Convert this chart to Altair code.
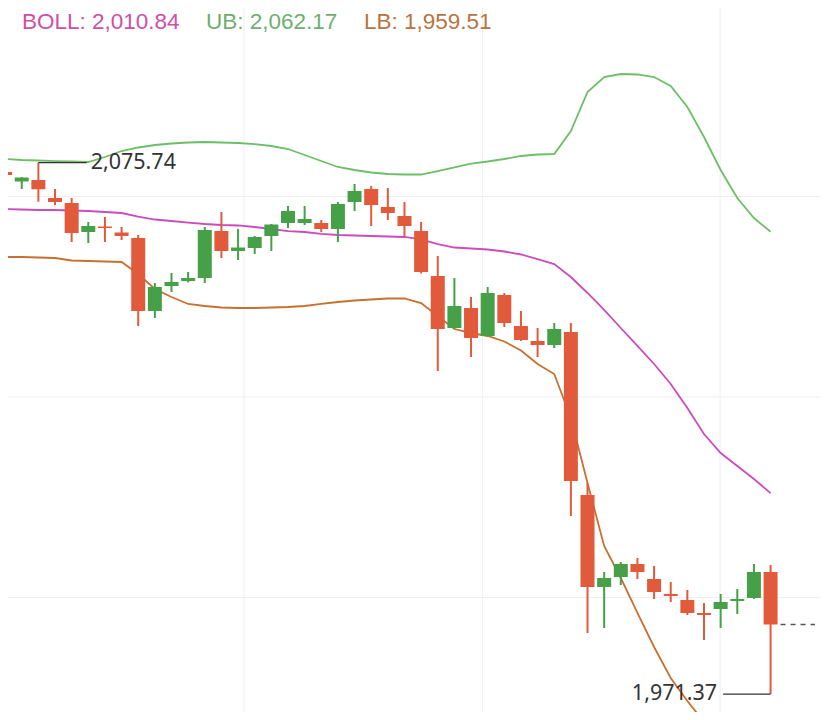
import altair as alt
import pandas as pd

# ---- data ----
idx = list(range(47))
open_ = [2073.91, 2072.05, 2072.34, 2068.81, 2067.82, 2062.13, 2063.21, 2062.03, 2060.95, 2046.61,
         2051.52, 2052.50, 2053.09, 2062.32, 2058.40, 2058.99, 2061.34, 2063.90, 2063.90, 2063.90,
         2062.72, 2068.02, 2070.57, 2067.04, 2065.27, 2062.32, 2053.49, 2043.27, 2047.20, 2041.70,
         2049.75, 2043.66, 2040.72, 2039.93, 2042.49, 2010.47, 1992.40, 1994.36, 1996.91, 1993.97,
         1991.02, 1989.84, 1987.29, 1988.07, 1989.65, 1990.23, 1995.34]
high = [2075.58, 2072.93, 2075.74, 2070.57, 2068.81, 2064.09, 2065.07, 2063.11, 2061.54, 2052.11,
        2054.07, 2054.27, 2063.11, 2066.06, 2062.72, 2061.34, 2063.70, 2067.24, 2067.24, 2064.49,
        2068.02, 2071.56, 2071.16, 2070.77, 2068.02, 2064.09, 2057.41, 2053.09, 2049.36, 2051.32,
        2050.15, 2046.61, 2043.27, 2044.25, 2044.25, 2012.82, 1995.34, 1997.31, 1998.09, 1996.52,
        1993.38, 1991.81, 1989.25, 1991.02, 1992.00, 1996.91, 1996.72]
low = [2073.03, 2070.57, 2068.08, 2067.43, 2060.16, 2059.97, 2060.16, 2060.56, 2043.66, 2045.24,
       2050.34, 2052.21, 2052.11, 2057.02, 2056.63, 2057.81, 2058.40, 2062.91, 2063.50, 2062.13,
       2060.16, 2066.25, 2063.31, 2064.49, 2061.34, 2053.98, 2034.82, 2043.07, 2037.57, 2041.60,
       2043.47, 2040.72, 2037.57, 2039.34, 2006.34, 1983.36, 1984.34, 1992.79, 1993.97, 1990.04,
       1989.45, 1986.90, 1981.98, 1984.34, 1987.09, 1990.04, 1971.37]
close = [2073.32, 2072.83, 2070.52, 2068.02, 2061.93, 2063.31, 2062.91, 2061.34, 2046.61, 2051.32,
         2052.31, 2053.09, 2062.52, 2058.40, 2059.08, 2061.15, 2063.60, 2066.25, 2064.68, 2062.72,
         2067.63, 2070.18, 2067.43, 2065.86, 2063.31, 2054.27, 2043.07, 2047.59, 2041.31, 2050.15,
         2044.25, 2040.91, 2039.93, 2043.07, 2013.22, 1992.40, 1994.16, 1996.91, 1995.34, 1991.41,
         1990.63, 1987.29, 1986.90, 1989.45, 1990.04, 1995.34, 1985.03]
ub = [2076.47, 2076.27, 2076.17, 2076.07, 2075.98, 2075.88, 2076.86, 2078.04, 2078.73, 2079.22,
      2079.51, 2079.71, 2079.81, 2079.71, 2079.61, 2079.41, 2079.02, 2078.43, 2077.25, 2076.07,
      2074.90, 2074.31, 2073.82, 2073.52, 2073.42, 2073.42, 2074.11, 2074.80, 2075.58, 2075.98,
      2076.47, 2077.06, 2077.35, 2077.45, 2081.97, 2089.63, 2092.57, 2093.16, 2093.07, 2092.57,
      2090.81, 2086.68, 2080.79, 2074.31, 2068.81, 2064.88, 2062.17]
boll = [2066.65, 2066.55, 2066.45, 2066.45, 2066.35, 2066.25, 2066.06, 2065.86, 2065.17, 2064.58,
        2064.29, 2063.99, 2063.70, 2063.50, 2063.41, 2063.11, 2062.72, 2062.32, 2062.13, 2061.74,
        2061.54, 2061.44, 2061.34, 2061.24, 2061.15, 2060.66, 2059.77, 2059.08, 2058.89, 2058.69,
        2058.30, 2057.71, 2056.82, 2055.84, 2053.29, 2050.15, 2046.81, 2043.27, 2039.74, 2036.20,
        2032.27, 2027.56, 2022.45, 2018.72, 2016.16, 2013.61, 2010.84]
lb = [2057.22, 2057.22, 2057.12, 2057.02, 2056.53, 2056.43, 2056.33, 2056.24, 2053.88, 2050.93,
      2049.36, 2047.99, 2047.59, 2047.30, 2047.20, 2047.20, 2047.30, 2047.40, 2047.59, 2047.99,
      2048.38, 2048.67, 2048.87, 2049.07, 2049.07, 2048.18, 2045.63, 2043.07, 2042.29, 2041.70,
      2040.62, 2038.85, 2036.20, 2034.23, 2025.59, 2012.82, 2000.45, 1994.16, 1987.29, 1980.61,
      1974.52, 1970.00, 1965.88, 1962.93, 1961.16, 1960.18, 1959.51]

grid_prices = [2069.10, 2029.72, 1990.33]
grid_idx = [14.35, 28.68, 42.97]

hi_idx, hi_val, hi_label = 2, 2075.74, "2,075.74"
lo_idx, lo_val, lo_label = 46, 1971.37, "1,971.37"
header = [("BOLL: 2,010.84", "#CF4FA5"), ("UB: 2,062.17", "#6FAE6F"), ("LB: 1,959.51", "#B8733F")]

RED = "#E15A3B"
GREEN = "#46A048"
FONT = "Noto Sans"
HEAD_FONT = "Liberation Sans"
X_MIN, X_MAX = 0.475, 48.67
Y_MIN, Y_MAX = 1967.84, 2106.13

df = pd.DataFrame({"i": idx, "open": open_, "high": high, "low": low, "close": close,
                   "ub": ub, "boll": boll, "lb": lb})
df["dir"] = ["down" if c < o else "up" for o, c in zip(open_, close)]

xs = alt.Scale(domain=[X_MIN, X_MAX], nice=False, zero=False)
ys = alt.Scale(domain=[Y_MIN, Y_MAX], nice=False, zero=False)
X = alt.X("i:Q", scale=xs, axis=None)
col = alt.Color("dir:N", scale=alt.Scale(domain=["up", "down"], range=[GREEN, RED]), legend=None)

hgrid = alt.Chart(pd.DataFrame({"g": grid_prices})).mark_rule(color="#efefef", strokeWidth=1).encode(
    y=alt.Y("g:Q", scale=ys, axis=None))
vgrid = alt.Chart(pd.DataFrame({"g": grid_idx})).mark_rule(color="#efefef", strokeWidth=1).encode(
    x=alt.X("g:Q", scale=xs, axis=None))

base = alt.Chart(df)
lines = []
for field, c in [("ub", "#6CBF66"), ("boll", "#CC4BBE"), ("lb", "#C8702F")]:
    lines.append(base.mark_line(color=c, strokeWidth=1.8, clip=True).encode(
        x=X, y=alt.Y(f"{field}:Q", scale=ys, axis=None)))

wicks = base.mark_rule(strokeWidth=2, clip=True).encode(
    x=X, y=alt.Y("low:Q", scale=ys, axis=None), y2="high:Q", color=col)
bodies = base.mark_bar(size=14, clip=True).encode(
    x=X, y=alt.Y("open:Q", scale=ys, axis=None), y2="close:Q", color=col)

mk = pd.DataFrame({"i": [hi_idx, lo_idx], "v": [hi_val, lo_val],
                   "e": [hi_idx + 2.9, lo_idx - 2.85], "label": [hi_label, lo_label]})
lead = alt.Chart(mk).mark_rule(color="#333333", strokeWidth=1.3, clip=True).encode(
    x=alt.X("i:Q", scale=xs, axis=None), x2="e:Q", y=alt.Y("v:Q", scale=ys, axis=None))
hi_text = alt.Chart(mk.iloc[[0]]).mark_text(align="left", baseline="middle", dx=4, fontSize=21.5,
                                            font=FONT, color="#333333").encode(
    x=alt.X("e:Q", scale=xs, axis=None), y=alt.Y("v:Q", scale=ys, axis=None), text="label:N")
lo_text = alt.Chart(mk.iloc[[1]]).mark_text(align="right", baseline="middle", dx=-6, fontSize=21.5,
                                            font=FONT, color="#333333").encode(
    x=alt.X("e:Q", scale=xs, axis=None), y=alt.Y("v:Q", scale=ys, axis=None), text="label:N")

last = pd.DataFrame({"i": [idx[-1] + 0.6], "e": [X_MAX], "v": [close[-1]]})
dash = alt.Chart(last).mark_rule(color="#555555", strokeWidth=1.3, strokeDash=[5, 5]).encode(
    x=alt.X("i:Q", scale=xs, axis=None), x2="e:Q", y=alt.Y("v:Q", scale=ys, axis=None))

head_x = [14, 198, 356]
heads = []
for (t, c), hx in zip(header, head_x):
    heads.append(alt.Chart(pd.DataFrame({"t": [t]})).mark_text(
        align="left", baseline="alphabetic", fontSize=22.5, font=HEAD_FONT, color=c).encode(
        x=alt.value(hx), y=alt.value(21), text="t:N"))

chart = alt.layer(hgrid, vgrid, *lines, wicks, bodies, lead, hi_text, lo_text, dash, *heads).properties(
    width=812, height=704, padding=0, autosize=alt.AutoSizeParams(type="none"), background="white"
).configure_view(stroke=None)

chart.save("out.html", embed_options={"renderer": "svg", "actions": False})
